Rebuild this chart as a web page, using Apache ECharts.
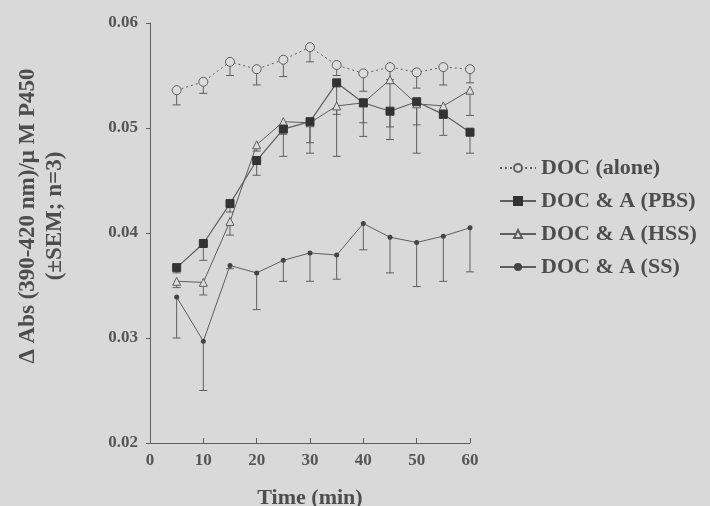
<!DOCTYPE html>
<html><head><meta charset="utf-8">
<script src="https://cdn.jsdelivr.net/npm/echarts@6/dist/echarts.min.js"></script>
<style>html,body{margin:0;padding:0;background:#d9d9d9;}#c{width:710px;height:506px;}</style>
</head><body><div id="c"></div>
<script>
const times = [5,10,15,20,25,30,35,40,45,50,55,60];
const seriesNames = ['DOC (alone)','DOC & A (PBS)','DOC & A (HSS)','DOC & A (SS)'];
const docAlone = [0.0536,0.0544,0.0563,0.0556,0.0565,0.0577,0.0560,0.0552,0.0558,0.0553,0.0558,0.0556];
const docAloneSem = [0.0014,0.0011,0.0013,0.0015,0.0016,0.0014,0.0010,0.0017,0.0012,0.0015,0.0017,0.0013];
const pbs = [0.0367,0.0390,0.0428,0.0469,0.0499,0.0506,0.0543,0.0524,0.0516,0.0525,0.0513,0.0496];
const pbsSem = [0.0005,0.0016,0.0008,0.0014,0.0026,0.0030,0.0070,0.0032,0.0027,0.0049,0.0020,0.0020];
const hss = [0.0354,0.0353,0.0411,0.0484,0.0506,0.0505,0.0521,0.0524,0.0546,0.0523,0.0521,0.0536];
const hssSem = [0.0006,0.0012,0.0013,0.0006,0.0012,0.0019,0.0008,0.0019,0.0045,0.0020,0.0008,0.0024];
const ss = [0.0339,0.0297,0.0369,0.0362,0.0374,0.0381,0.0379,0.0409,0.0396,0.0391,0.0397,0.0405];
const ssSem = [0.0039,0.0047,0.0003,0.0035,0.0020,0.0027,0.0023,0.0025,0.0034,0.0042,0.0043,0.0042];
const yTicks = [0.02,0.03,0.04,0.05,0.06];
const yTitle = '\u0394 Abs (390-420 nm)/\u03bc M P450\n(\u00b1SEM; n=3)';
const xTitle = 'Time (min)';

const ink = '#5e5e5e';
const txt = '#4d4d4d';
const font = 'Liberation Serif';

function pairs(vals){ return times.map((t,i)=>[t, vals[i]]); }
function errData(vals, sems){ return times.map((t,i)=>[t, vals[i], vals[i]-sems[i]]); }
function errSeries(vals, sems){
  return {
    type:'custom', silent:true, z:1,
    data: errData(vals, sems),
    renderItem: function(params, api){
      const top = api.coord([api.value(0), api.value(1)]);
      const bot = api.coord([api.value(0), api.value(2)]);
      const w = 4;
      return {type:'group', children:[
        {type:'line', shape:{x1:top[0],y1:top[1],x2:bot[0],y2:bot[1]}, style:{stroke:ink,lineWidth:1}},
        {type:'line', shape:{x1:bot[0]-w,y1:bot[1],x2:bot[0]+w,y2:bot[1]}, style:{stroke:ink,lineWidth:1}}
      ]};
    }
  };
}

const chart = echarts.init(document.getElementById('c'));
chart.setOption({
  backgroundColor:'#d9d9d9',
  animation:false,
  textStyle:{fontFamily:font},
  grid:{left:150, right:240, top:23, bottom:63, containLabel:false, outerBoundsMode:'none'},
  graphic:[{
    type:'text', x:42, y:216, rotation:Math.PI/2,
    style:{text:yTitle, fontFamily:font, fontWeight:'bold', fontSize:23, lineHeight:27,
      fill:txt, align:'center', verticalAlign:'middle'}
  }],
  legend:{
    orient:'vertical', left:494, top:152, itemGap:11, itemWidth:36, itemHeight:10,
    data:seriesNames,
    textStyle:{fontFamily:font, fontWeight:'bold', fontSize:22, color:txt}
  },
  xAxis:{
    type:'value', min:0, max:60, interval:10,
    name:xTitle, nameLocation:'middle', nameGap:44,
    nameTextStyle:{fontFamily:font, fontWeight:'bold', fontSize:22, color:txt},
    axisLine:{lineStyle:{color:ink}},
    axisTick:{inside:true, length:5, lineStyle:{color:ink}},
    axisLabel:{fontFamily:font, fontWeight:'bold', fontSize:17, color:'#555', margin:9},
    splitLine:{show:false}
  },
  yAxis:{
    type:'value', min:0.02, max:0.06, interval:0.01,
    axisLine:{show:true, lineStyle:{color:ink}},
    axisTick:{show:true, length:4, lineStyle:{color:ink}},
    axisLabel:{fontFamily:font, fontWeight:'bold', fontSize:17, color:'#555', margin:12,
      formatter: v => yTicks.some(t=>Math.abs(t-v)<1e-9) ? v.toFixed(2) : ''},
    splitLine:{show:false}
  },
  series:[
    errSeries(docAlone, docAloneSem),
    errSeries(pbs, pbsSem),
    errSeries(hss, hssSem),
    errSeries(ss, ssSem),
    {name:seriesNames[0], type:'line', data:pairs(docAlone), z:3,
     symbol:'circle', symbolSize:9, lineStyle:{color:ink, width:1, type:[2,3]},
     itemStyle:{color:'#dcdcdc', borderColor:ink, borderWidth:1}},
    {name:seriesNames[1], type:'line', data:pairs(pbs), z:4,
     symbol:'rect', symbolSize:8, lineStyle:{color:ink, width:1.2},
     itemStyle:{color:'#333', borderColor:'#333', borderWidth:1}},
    {name:seriesNames[2], type:'line', data:pairs(hss), z:3,
     symbol:'triangle', symbolSize:8, lineStyle:{color:ink, width:1},
     itemStyle:{color:'#dcdcdc', borderColor:ink, borderWidth:1}},
    {name:seriesNames[3], type:'line', data:pairs(ss), z:3,
     symbol:'circle', symbolSize:5, lineStyle:{color:ink, width:1},
     itemStyle:{color:'#444', borderColor:'#444', borderWidth:0}}
  ]
});
</script></body></html>
